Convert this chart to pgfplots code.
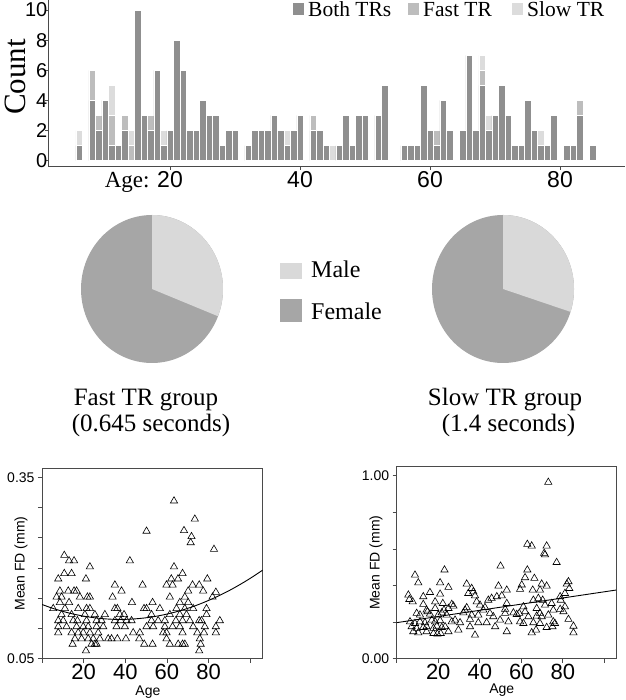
\documentclass[border=0pt]{standalone}
\usepackage{pgfplots}
\pgfplotsset{compat=1.18}
\usepackage{pgfplotstable}
\usepackage{fontspec}
\setmainfont{Liberation Serif}
\setsansfont{Liberation Sans}
\newcommand\fs[1]{\fontsize{#1}{#1}\selectfont}
\definecolor{bothc}{HTML}{8F8F8F}
\definecolor{fastc}{HTML}{BDBDBD}
\definecolor{slowc}{HTML}{DCDCDC}
\definecolor{malec}{HTML}{D9D9D9}
\definecolor{femalec}{HTML}{A6A6A6}
\definecolor{axc}{HTML}{4A4A4A}

\pgfplotstableread{
age both fast slow
6 1 0 1
8 4 2 0
9 2 1 0
10 4 0 0
11 1 2 2
12 1 0 0
13 2 1 0
14 0 1 1
15 10 0 0
16 3 0 0
17 2 1 0
18 6 0 0
19 1 0 1
20 2 0 0
21 8 0 0
22 6 0 0
23 2 0 0
24 2 0 0
25 4 0 0
26 3 0 0
27 3 0 0
28 1 0 0
29 2 0 0
30 2 0 0
32 1 0 0
33 2 0 0
34 2 0 0
35 2 0 0
36 3 0 0
37 2 0 0
38 1 0 1
39 2 0 0
40 3 0 0
42 2 1 0
43 2 0 0
44 1 0 0
45 0 0 1
46 1 0 0
47 3 0 0
48 1 0 0
49 3 0 0
50 3 0 0
52 3 0 0
53 5 0 0
56 1 0 0
57 1 0 0
58 1 0 0
59 5 0 0
60 2 0 0
61 1 1 0
62 4 0 0
63 2 0 0
65 2 0 0
66 7 0 0
67 2 0 0
68 5 1 1
69 2 0 1
70 3 0 0
71 5 0 0
72 3 0 0
73 1 0 0
74 1 0 0
75 4 0 0
76 2 0 0
77 1 0 1
78 1 0 0
79 3 0 0
81 1 0 0
82 1 0 0
83 3 1 0
85 1 0 0
}\hist

\begin{document}
\begin{tikzpicture}
\useasboundingbox (0,0) rectangle (625pt,700pt);

% ---------------- Histogram ----------------
\begin{axis}[
  at={(48pt,533.3pt)}, anchor=south west, scale only axis,
  width=577pt, height=166.7pt,
  xmin=1.23, xmax=90, ymin=-0.4, ymax=10.67,
  axis x line*=bottom, axis y line*=left,
  axis line style={-, axc, line width=0.8pt},
  ybar stacked, bar width=1,
  xtick={20,40,60,80},
  xticklabels={{\llap{\rmfamily Age: }20},40,60,80},
  ytick={0,2,4,6,8,10},
  yticklabels={0,2,4,6,8,10},
  tick style={axc, line width=0.6pt}, major tick length=3pt, tick align=outside,
  xticklabel style={font=\sffamily\fs{23}, inner ysep=2pt},
  yticklabel style={font=\sffamily\fs{20}, inner xsep=0pt, xshift=2.5pt},
  clip=false,
]
\addplot[fill=bothc, draw=white, line width=0.5pt] table[x=age, y=both] {\hist};
\addplot[fill=fastc, draw=white, line width=0.5pt] table[x=age, y=fast] {\hist};
\addplot[fill=slowc, draw=white, line width=0.5pt] table[x=age, y=slow] {\hist};
\end{axis}
\node[rotate=90, font=\rmfamily\fs{31}, anchor=base, inner sep=0pt] at (25pt,623pt) {Count};
% histogram legend
\fill[bothc] (293pt,685pt) rectangle (304pt,697pt);
\node[anchor=base west, inner sep=0pt, font=\fs{21.5}] at (308pt,683.5pt) {Both TRs};
\fill[fastc] (408pt,685pt) rectangle (419pt,697pt);
\node[anchor=base west, inner sep=0pt, font=\fs{21.5}] at (423pt,683.5pt) {Fast TR};
\fill[slowc] (512pt,685pt) rectangle (523pt,697pt);
\node[anchor=base west, inner sep=0pt, font=\fs{21.5}] at (527pt,683.5pt) {Slow TR};

% ---------------- Pies ----------------
\begin{axis}[
  at={(152pt,411pt)}, anchor=center, scale only axis,
  width=142pt, height=148pt, xmin=-1, xmax=1, ymin=-1, ymax=1, hide axis, clip=false]
\fill[femalec] (axis cs:0,0) ellipse [x radius=71pt, y radius=74pt];
\fill[malec] (axis cs:0,0) -- (axis cs:0,1) arc [start angle=90, end angle={90-360*0.31}, x radius=71pt, y radius=74pt] -- cycle;
\end{axis}
\begin{axis}[
  at={(503pt,411pt)}, anchor=center, scale only axis,
  width=142pt, height=148pt, xmin=-1, xmax=1, ymin=-1, ymax=1, hide axis, clip=false]
\fill[femalec] (axis cs:0,0) ellipse [x radius=71pt, y radius=74pt];
\fill[malec] (axis cs:0,0) -- (axis cs:0,1) arc [start angle=90, end angle={90-360*0.30}, x radius=71pt, y radius=74pt] -- cycle;
\end{axis}
% pie legend
\fill[malec] (280pt,421pt) rectangle (302pt,437pt);
\node[anchor=base west, inner sep=0pt, font=\fs{24}] at (311pt,422pt) {Male};
\fill[femalec] (280pt,378pt) rectangle (302pt,401pt);
\node[anchor=base west, inner sep=0pt, font=\fs{24}] at (311pt,380pt) {Female};
% titles
\node[anchor=base, inner sep=0pt, font=\fs{25}] at (146pt,294.3pt) {Fast TR group};
\node[anchor=base, inner sep=0pt, font=\fs{25}] at (151pt,268.3pt) {(0.645 seconds)};
\node[anchor=base, inner sep=0pt, font=\fs{25}] at (505pt,294.3pt) {Slow TR group};
\node[anchor=base, inner sep=0pt, font=\fs{25}] at (508.5pt,268.3pt) {(1.4 seconds)};

% ---------------- Scatter left ----------------
\begin{axis}[
  at={(42pt,41.3pt)}, anchor=south west, scale only axis,
  width=220.7pt, height=190.4pt,
  xmin=0, xmax=106, ymin=0.05, ymax=0.365,
  axis line style={axc, line width=0.8pt},
  xtick={0,20,40,60,80,100}, xticklabels={,20,40,60,80,},
  ytick={0.05,0.1,0.15,0.2,0.25,0.3,0.35}, yticklabels={0.05,,,,,,0.35},
  tick pos=left, tick align=outside, major tick length=4pt,
  tick style={axc, line width=0.7pt},
  xticklabel style={font=\sffamily\fs{22}, inner ysep=1pt},
  yticklabel style={font=\sffamily\fs{14}},
  xlabel={Age}, ylabel={Mean FD (mm)},
  label style={font=\sffamily\fs{14}},
  xlabel style={at={(axis description cs:0.48,-0.175)}, anchor=center},
  ylabel style={at={(axis description cs:-0.095,0.5)}, anchor=center},
]
\addplot[only marks, mark=triangle, mark size=4.2pt, mark options={line width=0.6pt, draw=black, fill=none}] coordinates {
(63.4,0.311) (73.4,0.281) (50.2,0.261) (68.2,0.262) (71.8,0.252) (71.4,0.242) (82.6,0.231) (10.7,0.221) (13,0.212) (15.4,0.212) (42.2,0.212) (23,0.202) (63.4,0.202) (10.7,0.191) (14.2,0.191) (7.8,0.182) (21.1,0.182) (67.5,0.191) (62.1,0.182) (65.3,0.182) (79.4,0.182) (35,0.172) (48.3,0.172) (59.8,0.172) (62.7,0.172) (72.3,0.172) (75.5,0.172) (8.6,0.162) (12.6,0.162) (15.4,0.162) (16.6,0.162) (38.2,0.162) (70.2,0.162) (77.4,0.162) (83.5,0.160) (7,0.152) (9.4,0.152) (18.2,0.152) (21.8,0.152) (23,0.152) (33.9,0.152) (61.4,0.152) (68.6,0.152) (81.9,0.152) (8.6,0.143) (13,0.143) (43.2,0.143) (53.1,0.143) (66.2,0.143) (70.2,0.143) (5.4,0.133) (11,0.133) (17.4,0.133) (21.4,0.133) (23,0.133) (35,0.133) (36.2,0.133) (49,0.133) (50.2,0.133) (56.6,0.133) (64.6,0.133) (68.6,0.133) (72.6,0.133) (79,0.133) (9.4,0.123) (14.2,0.123) (20.6,0.123) (25.4,0.123) (30.2,0.123) (37.4,0.123) (39.4,0.123) (52.6,0.123) (61.4,0.123) (66.2,0.123) (69.4,0.123) (79,0.123) (7.8,0.113) (10.2,0.113) (15,0.113) (17,0.113) (21.4,0.113) (26.2,0.113) (28.6,0.113) (35,0.113) (37.8,0.113) (40.6,0.113) (43,0.113) (52.6,0.113) (55.8,0.113) (59,0.113) (64.3,0.113) (67.5,0.113) (71,0.113) (75.5,0.113) (76.6,0.113) (85.4,0.113) (7.8,0.103) (11.8,0.103) (16.6,0.103) (19.8,0.103) (22.2,0.103) (26.2,0.103) (29.4,0.103) (35.8,0.103) (39.8,0.103) (50.2,0.103) (53.4,0.103) (59,0.103) (62.7,0.103) (66.2,0.103) (72.6,0.103) (78.2,0.103) (83.5,0.103) (7.8,0.093) (14.2,0.093) (17.4,0.093) (19.8,0.093) (23,0.093) (27,0.093) (43.8,0.093) (47,0.093) (58.2,0.093) (59.8,0.093) (67.5,0.093) (74.6,0.093) (77.8,0.093) (83.5,0.093) (15.8,0.083) (19,0.083) (22.2,0.083) (24.6,0.083) (27.8,0.083) (31.8,0.083) (33.4,0.083) (36.2,0.083) (40.3,0.083) (46.7,0.083) (59.8,0.083) (75.8,0.083) (14.7,0.074) (23.8,0.074) (25.4,0.074) (26.2,0.074) (49.1,0.074) (53.1,0.074) (61.4,0.074) (65.4,0.074) (67.5,0.074) (68.6,0.074) (76.2,0.074) (21.1,0.063) (75.5,0.063)
};
\addplot[black, line width=0.9pt, smooth] coordinates {
(0,0.1397) (5,0.1335) (10,0.1283) (15,0.1239) (20,0.1204) (25,0.1178) (30,0.1160) (35,0.1151) (40,0.1151) (45,0.1160) (50,0.1177) (55,0.1203) (60,0.1238) (65,0.1281) (70,0.1333) (75,0.1394) (80,0.1464) (85,0.1542) (90,0.1629) (95,0.1725) (100,0.1829) (106,0.1966)
};
\end{axis}

% ---------------- Scatter right ----------------
\begin{axis}[
  at={(396.7pt,41.3pt)}, anchor=south west, scale only axis,
  width=219.3pt, height=192pt,
  xmin=0, xmax=105.6, ymin=0, ymax=1.049,
  axis line style={axc, line width=0.8pt},
  xtick={0,20,40,60,80,100}, xticklabels={,20,40,60,80,},
  ytick={0,0.2,0.4,0.6,0.8,1}, yticklabels={0.00,,,,,1.00},
  tick pos=left, tick align=outside, major tick length=4pt,
  tick style={axc, line width=0.7pt},
  xticklabel style={font=\sffamily\fs{22}, inner ysep=1pt},
  yticklabel style={font=\sffamily\fs{14}},
  xlabel={Age}, ylabel={Mean FD (mm)},
  label style={font=\sffamily\fs{14}},
  xlabel style={at={(axis description cs:0.479,-0.165)}, anchor=center},
  ylabel style={at={(axis description cs:-0.094,0.5)}, anchor=center},
]
\addplot[only marks, mark=triangle, mark size=4.2pt, mark options={line width=0.6pt, draw=black, fill=none}] coordinates {
(73,0.964) (62.9,0.625) (65,0.616) (72.2,0.616) (71,0.576) (71.4,0.568) (77,0.526) (50,0.506) (23,0.485) (62.9,0.485) (8.8,0.457) (61.8,0.443) (66.3,0.439) (10.4,0.415) (20.9,0.415) (33.7,0.408) (49,0.397) (60.2,0.403) (69.8,0.408) (72.2,0.397) (82.7,0.421) (81.9,0.408) (24.9,0.390) (36.1,0.384) (36.9,0.366) (53,0.375) (59.4,0.379) (65.5,0.375) (69,0.375) (83.1,0.384) (5.6,0.348) (16,0.362) (20.9,0.353) (34.5,0.357) (37.7,0.344) (48.2,0.339) (50.6,0.344) (81,0.357) (12.8,0.339) (6.1,0.324) (7.7,0.311) (18.5,0.311) (22.2,0.302) (12.8,0.297) (26.5,0.297) (38.5,0.311) (44.1,0.320) (45.7,0.330) (65.8,0.320) (68.2,0.330) (70.3,0.320) (78.7,0.339) (79,0.320) (74.6,0.302) (40.1,0.293) (53,0.302) (71.4,0.293) (27.3,0.288) (14.4,0.266) (14.8,0.257) (18.5,0.275) (22.8,0.266) (24.9,0.275) (32.9,0.266) (33.7,0.279) (41.7,0.266) (42.5,0.280) (52.2,0.270) (61,0.284) (67.4,0.275) (69,0.248) (75.4,0.266) (78.7,0.270) (81,0.284) (9.6,0.248) (11.2,0.239) (16,0.244) (20,0.239) (21.7,0.251) (24.1,0.239) (32.1,0.251) (36.1,0.239) (39.3,0.239) (44.9,0.248) (46.5,0.230) (52.2,0.248) (56.2,0.251) (57.8,0.242) (59,0.248) (61.8,0.257) (63.4,0.230) (67.4,0.233) (69.8,0.230) (73,0.239) (80.3,0.257) (82.7,0.215) (6.4,0.202) (8.8,0.193) (11.2,0.202) (13.6,0.197) (16.9,0.211) (18.5,0.202) (20.9,0.208) (26.5,0.202) (28.1,0.211) (30.5,0.197) (35.3,0.215) (39.3,0.197) (43.3,0.197) (49.8,0.211) (53.8,0.202) (59.4,0.202) (65.8,0.197) (69,0.193) (75.4,0.202) (76.2,0.193) (7.2,0.175) (9.6,0.166) (12.8,0.171) (14.4,0.175) (17.7,0.166) (19.3,0.178) (21.7,0.171) (23.3,0.175) (35.3,0.175) (47.4,0.175) (61,0.193) (72.2,0.171) (75,0.175) (85.1,0.178) (8,0.148) (10.4,0.142) (14.4,0.148) (17.7,0.138) (19.6,0.135) (21.2,0.138) (24.9,0.148) (29.7,0.157) (53,0.148) (65,0.142) (67.1,0.157) (85.1,0.142) (37.7,0.129)
};
\addplot[black, line width=0.9pt] coordinates {(0,0.197) (105.6,0.375)};
\end{axis}
\end{tikzpicture}
\end{document}
